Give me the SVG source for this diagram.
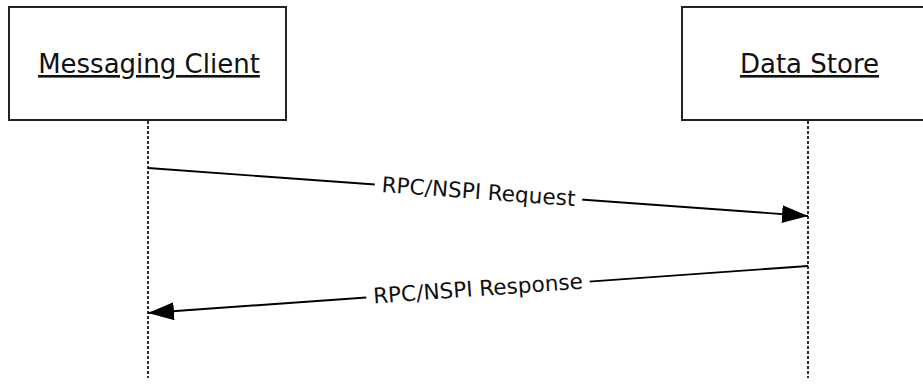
<svg xmlns="http://www.w3.org/2000/svg" width="923" height="391" viewBox="0 0 923 391">
  <style>
    .box { fill: #ffffff; stroke: #222222; stroke-width: 2; }
    .title { font-family: "DejaVu Sans", Verdana, sans-serif; font-size: 26px; fill: #111111; text-anchor: middle; text-decoration: underline; }
    .life { stroke: #1a1a1a; stroke-width: 1.8; stroke-dasharray: 3 2; fill: none; }
    .msg { stroke: #000000; stroke-width: 1.9; fill: none; marker-end: url(#arrow); }
    .lbl { font-family: "DejaVu Sans", Verdana, sans-serif; font-size: 21.6px; fill: #111111; text-anchor: middle; }
    .gap { fill: #ffffff; }
  </style>
  <defs>
    <marker id="arrow" markerUnits="userSpaceOnUse" markerWidth="27" markerHeight="19" refX="26" refY="9" orient="auto">
      <path d="M0,0 L26,9 L0,18 Z" fill="#000000"/>
    </marker>
  </defs>
  <rect width="923" height="391" fill="#ffffff"/>

  <g id="messaging-client">
    <rect class="box" x="9" y="7" width="277" height="113"/>
    <text class="title" x="149" y="73">Messaging Client</text>
  </g>
  <g id="data-store">
    <rect class="box" x="682" y="7" width="254" height="113"/>
    <text class="title" x="809.5" y="73">Data Store</text>
  </g>

  <g id="lifelines">
    <line class="life" x1="148" y1="121" x2="148" y2="378"/>
    <line class="life" x1="808" y1="121" x2="808" y2="378"/>
  </g>

  <g id="connectors">
    <g id="request">
      <line class="msg" x1="148" y1="168" x2="808" y2="216"/>
      <g transform="translate(478.5,192) rotate(4.16)">
        <rect class="gap" x="-104" y="-12" width="208" height="24"/>
        <text class="lbl" x="0" y="7">RPC/NSPI Request</text>
      </g>
    </g>
    <g id="response">
      <line class="msg" x1="808" y1="266" x2="148" y2="313"/>
      <g transform="translate(478,289.5) rotate(-4.07)">
        <rect class="gap" x="-112" y="-12" width="224" height="24"/>
        <text class="lbl" x="0" y="6.5">RPC/NSPI Response</text>
      </g>
    </g>
  </g>
</svg>
